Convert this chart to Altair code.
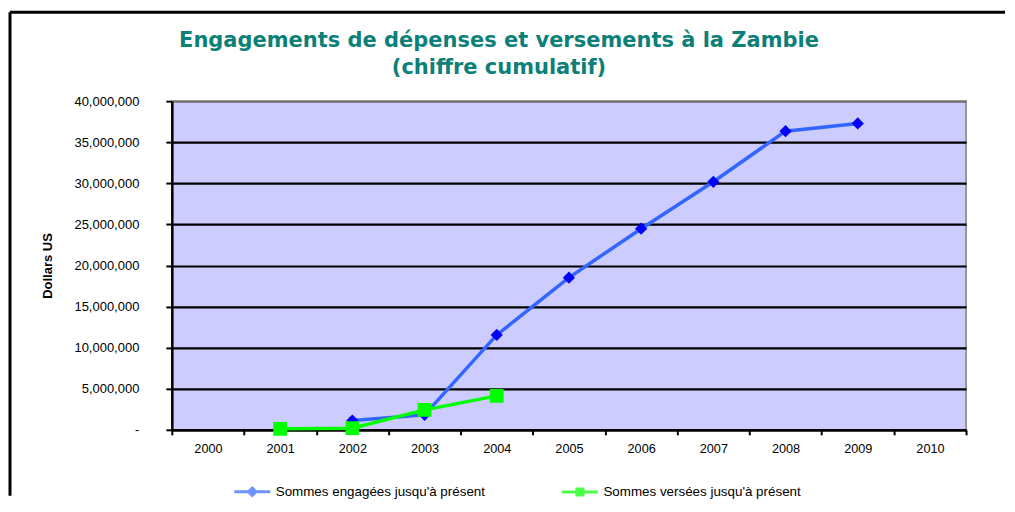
import altair as alt
import pandas as pd

# ---- data ----
years = [str(y) for y in range(2000, 2011)]
engaged_years = ["2002", "2003", "2004", "2005", "2006", "2007", "2008", "2009"]
engaged_values = [1130000, 1820000, 11550000, 18520000, 24480000, 30190000, 36350000, 37290000]
disbursed_years = ["2001", "2002", "2003", "2004"]
disbursed_values = [120000, 200000, 2430000, 4130000]
series_names = ["Sommes engagées jusqu'à présent", "Sommes versées jusqu'à présent"]
line_colors = ["#3366FF", "#00FF00"]
marker_colors = ["#0000FF", "#00FF00"]
marker_shapes = ["diamond", "square"]
marker_sizes = [150, 190]
legend_shapes = [
    "M-1,0L1,0M0,-0.2L0.2,0L0,0.2L-0.2,0Z",
    "M-1,0L1,0M-0.17,-0.17L0.17,-0.17L0.17,0.17L-0.17,0.17Z",
]
y_ticks = [0, 5000000, 10000000, 15000000, 20000000, 25000000, 30000000, 35000000, 40000000]
title_lines = ["Engagements de dépenses et versements à la Zambie", "(chiffre cumulatif)"]
y_title = "Dollars US"

rows = []
for yr, v in zip(engaged_years, engaged_values):
    rows.append({"annee": yr, "valeur": v, "serie": series_names[0]})
for yr, v in zip(disbursed_years, disbursed_values):
    rows.append({"annee": yr, "valeur": v, "serie": series_names[1]})
df = pd.DataFrame(rows)

W, H = 795, 329
FONT = "Liberation Sans"

x_enc = alt.X(
    "annee:O",
    scale=alt.Scale(type="band", domain=years, paddingInner=0, paddingOuter=0),
    axis=alt.Axis(
        title=None, labelAngle=0, labelFont=FONT, labelFontSize=12.7, labelColor="black",
        tickBand="extent", tickColor="black", tickWidth=2, tickSize=5,
        domainColor="black", domainWidth=2.5, labelPadding=8, grid=False,
    ),
)
y_enc = alt.Y(
    "valeur:Q",
    scale=alt.Scale(domain=[0, 40000000], nice=False),
    axis=alt.Axis(
        values=y_ticks,
        labelExpr="datum.value == 0 ? '-\u00a0\u00a0' : format(datum.value, ',')",
        labelFont=FONT, labelFontSize=13, labelColor="black", labelPadding=27,
        tickColor="black", tickWidth=2, tickSize=6,
        domainColor="black", domainWidth=2.5,
        grid=True, gridWidth=2.2,
        gridColor=alt.condition("datum.value == 40000000", alt.value("#707070"), alt.value("black")),
        title=y_title, titleFont=FONT, titleFontSize=13, titleFontWeight="bold",
        titleColor="black", titleX=-124, titleBaseline="middle",
    ),
)

lines = alt.Chart(df).mark_line(strokeWidth=3.5).encode(
    x=x_enc,
    y=y_enc,
    color=alt.Color("serie:N", scale=alt.Scale(domain=series_names, range=line_colors), legend=None),
)

points = alt.Chart(df).mark_point(filled=True, opacity=1).encode(
    x=alt.X("annee:O"),
    y=alt.Y("valeur:Q"),
    fill=alt.Fill("serie:N", scale=alt.Scale(domain=series_names, range=marker_colors), legend=None),
    shape=alt.Shape("serie:N", scale=alt.Scale(domain=series_names, range=marker_shapes), legend=None),
    size=alt.Size("serie:N", scale=alt.Scale(domain=series_names, range=marker_sizes), legend=None),
)

legend_props = dict(
    title=None, orient="none", direction="horizontal",
    legendX=61, legendY=371,
    labelFont=FONT, labelFontSize=13.4, labelColor="black", labelOffset=4, labelLimit=0,
    columnPadding=70, symbolSize=1296, symbolStrokeWidth=3,
)
# legend carrier: no visible marks, only the legend built from the series scales
legend_layer = alt.Chart(df).transform_filter("false").mark_point(filled=True, strokeWidth=3).encode(
    x=alt.X("annee:O"),
    y=alt.Y("valeur:Q"),
    fill=alt.Fill("serie:N", scale=alt.Scale(domain=series_names, range=marker_colors),
                  legend=alt.Legend(**legend_props)),
    stroke=alt.Stroke("serie:N", scale=alt.Scale(domain=series_names, range=line_colors),
                      legend=alt.Legend(**legend_props)),
    shape=alt.Shape("serie:N", scale=alt.Scale(domain=series_names, range=legend_shapes),
                    legend=alt.Legend(**legend_props)),
)

frame_df = pd.DataFrame({"cadre": ["haut", "gauche"]})
frame_top = alt.Chart(frame_df).transform_filter("datum.cadre == 'haut'").mark_rule(
    color="black", strokeWidth=3
).encode(x=alt.value(-162), x2=alt.value(W + 39), y=alt.value(-89))
frame_left = alt.Chart(frame_df).transform_filter("datum.cadre == 'gauche'").mark_rule(
    color="black", strokeWidth=3
).encode(x=alt.value(-162), y=alt.value(-89), y2=alt.value(H + 66))

chart = alt.layer(lines, points, legend_layer, frame_top, frame_left).resolve_scale(
    color="independent", fill="independent", shape="independent",
    size="independent", stroke="independent",
).properties(
    width=W, height=H, background="white",
    padding={"left": 0, "top": 2, "right": 0, "bottom": 0},
    title=alt.TitleParams(
        text=title_lines, font="DejaVu Sans", fontSize=21, fontWeight="bold",
        color="#0B8078", anchor="middle", frame="group", dx=-70, offset=-67, lineHeight=27,
    ),
).configure_view(
    fill="#CCCCFF", stroke="#808080", strokeWidth=1.5
)

chart.save("out.html", embed_options={"renderer": "svg", "actions": False})
